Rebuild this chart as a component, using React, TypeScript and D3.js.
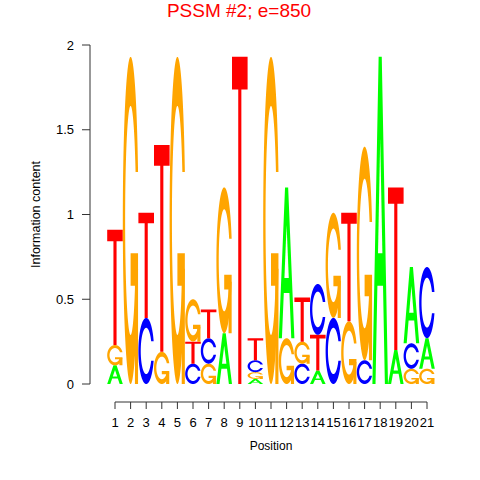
import React from 'react';
import * as d3 from 'd3';

// information content per position
const positions = d3.range(1, 22);
const bitsA = [0.11, 0, 0, 0, 0, 0, 0, 0.30, 0, 0.03, 0, 0.89, 0, 0.08, 0, 0, 0, 1.93, 0.20, 0.45, 0.18];
const bitsC = [0, 0, 0.39, 0, 0, 0.12, 0.15, 0, 0, 0.07, 0, 0, 0.12, 0.30, 0.39, 0, 0.14, 0, 0, 0.15, 0.42];
const bitsG = [0.12, 1.93, 0, 0.19, 1.93, 0.25, 0.12, 0.86, 0, 0.04, 1.93, 0.27, 0.13, 0, 0.62, 0.37, 1.26, 0, 0, 0.09, 0.09];
const bitsT = [0.68, 0, 0.62, 1.22, 0, 0.13, 0.17, 0, 1.93, 0.13, 0, 0, 0.26, 0.21, 0, 0.64, 0, 0, 0.96, 0, 0];
const yTicks = [0, 0.5, 1, 1.5, 2];

const colors: Record<string, string> = { A: '#00ff00', C: '#0000ff', G: '#ffa500', T: '#ff0000' };
const font = '"Liberation Sans", Arial, Helvetica, sans-serif';

type Pt = [number, number];

// letter outlines in a unit box, same construction as seqLogo
function cOutline(): Pt[] {
  const n = 100;
  const a1 = d3.range(n).map(i => Math.PI / 2 + 0.3 + (Math.PI / 2 - 0.3) * i / (n - 1));
  const a2 = d3.range(n).map(i => Math.PI + (Math.PI / 2) * i / (n - 1));
  const xl1 = a1.map(a => 0.5 + 0.5 * Math.sin(a));
  const yl1 = a1.map(a => 0.5 + 0.5 * Math.cos(a));
  const xl = [...xl1, ...a2.map(a => 0.5 + 0.5 * Math.sin(a))];
  const yl = [...yl1, ...a2.map(a => 0.5 + 0.5 * Math.cos(a))];
  const maxY = d3.max(yl1) as number;
  const xo = [...xl, ...xl.slice().reverse()];
  const yo = [...yl, ...yl.slice().reverse().map(v => 1 - v)];

  let xi1 = a1.map(a => 0.5 + 0.35 * Math.sin(a));
  let yi1 = a1.map(a => 0.5 + 0.35 * Math.cos(a));
  const keep = yi1.map(v => v <= maxY);
  xi1 = xi1.filter((_, i) => keep[i]);
  yi1 = yi1.filter((_, i) => keep[i]);
  yi1[0] = maxY;
  const xi = [...xi1, ...a2.map(a => 0.5 + 0.35 * Math.sin(a))];
  const yi = [...yi1, ...a2.map(a => 0.5 + 0.35 * Math.cos(a))];
  const x1 = [...xi, ...xi.slice().reverse()];
  const y1 = [...yi, ...yi.slice().reverse().map(v => 1 - v)];

  const x = [...xo, ...x1.slice().reverse()];
  const y = [...yo, ...y1.slice().reverse()];
  return x.map((v, i) => [v, y[i]] as Pt);
}

const cPoly = cOutline();
const r1 = d3.max(cPoly, p => p[0]) as number;
const gBar: Pt[] = [[r1, 0.4], [0.5, 0.4], [0.5, 0.3], [r1 - 0.2, 0.3], [r1 - 0.2, 0], [r1, 0], [r1, 0.4]];
const aOuter: Pt[] = [[0, 0], [0.4, 1], [0.6, 1], [1, 0], [0.8, 0], [0.68, 0.3], [0.32, 0.3], [0.2, 0], [0, 0]];
const aHole: Pt[] = [[0.36, 0.4], [0.5, 0.75], [0.64, 0.4], [0.36, 0.4]];
const tPoly: Pt[] = [[0, 1], [1, 1], [1, 0.9], [0.6, 0.9], [0.6, 0], [0.4, 0], [0.4, 0.9], [0, 0.9]];

const shapes: Record<string, { pts: Pt[]; fill: string | null }[]> = {
  A: [{ pts: aOuter, fill: null }, { pts: aHole, fill: '#ffffff' }],
  C: [{ pts: cPoly, fill: null }],
  G: [{ pts: cPoly, fill: null }, { pts: gBar, fill: null }],
  T: [{ pts: tPoly, fill: null }],
};

export default function App() {
  const width = 480;
  const height = 480;

  const x = d3.scaleLinear().domain([1, 21]).range([115, 427]);
  const y = d3.scaleLinear().domain([0, 2]).range([384, 45]);
  const w = x(2) - x(1);
  const line = d3.line();

  const letters: JSX.Element[] = [];
  positions.forEach((pos, i) => {
    const col = [
      { b: 'A', h: bitsA[i] },
      { b: 'C', h: bitsC[i] },
      { b: 'G', h: bitsG[i] },
      { b: 'T', h: bitsT[i] },
    ].filter(d => d.h > 0);
    col.sort((a, b) => a.h - b.h);
    let base = 0;
    const x0 = x(pos) - w / 2;
    col.forEach(d => {
      shapes[d.b].forEach((s, k) => {
        const pts: Pt[] = s.pts.map(p => [x0 + w * p[0], y(base + d.h * p[1])]);
        letters.push(
          <path key={`${pos}-${d.b}-${k}`} d={(line(pts) as string) + 'Z'} fill={s.fill || colors[d.b]} stroke="none" />
        );
      });
      base += d.h;
    });
  });

  return (
    <svg width={width} height={height} style={{ position: 'absolute', left: 0, top: 0, background: '#fff' }}>
      <rect width={width} height={height} fill="#fff" />
      <text x={239} y={17} textAnchor="middle" fill="#ff0000" fontSize={19} fontFamily={font}>
        PSSM #2; e=850
      </text>
      <g>{letters}</g>
      {/* y axis */}
      <g fontFamily={font} fontSize={13} fill="#000">
        <line x1={90} x2={90} y1={y(2)} y2={y(0)} stroke="#333" />
        {yTicks.map(t => (
          <g key={t}>
            <line x1={82} x2={90} y1={y(t)} y2={y(t)} stroke="#333" />
            <text x={74} y={y(t)} dy="0.35em" textAnchor="end">
              {String(t)}
            </text>
          </g>
        ))}
        <text transform={`translate(40,${(y(0) + y(2)) / 2}) rotate(-90)`} textAnchor="middle" fontSize={12.5}>
          Information content
        </text>
      </g>
      {/* x axis */}
      <g fontFamily={font} fontSize={13} fill="#000">
        <line x1={x(1)} x2={x(21)} y1={402} y2={402} stroke="#333" />
        {positions.map(p => (
          <g key={p}>
            <line x1={x(p)} x2={x(p)} y1={402} y2={409} stroke="#333" />
            <text x={x(p)} y={427} textAnchor="middle">
              {p}
            </text>
          </g>
        ))}
        <text x={(x(1) + x(21)) / 2} y={450} textAnchor="middle" fontSize={12}>
          Position
        </text>
      </g>
    </svg>
  );
}
